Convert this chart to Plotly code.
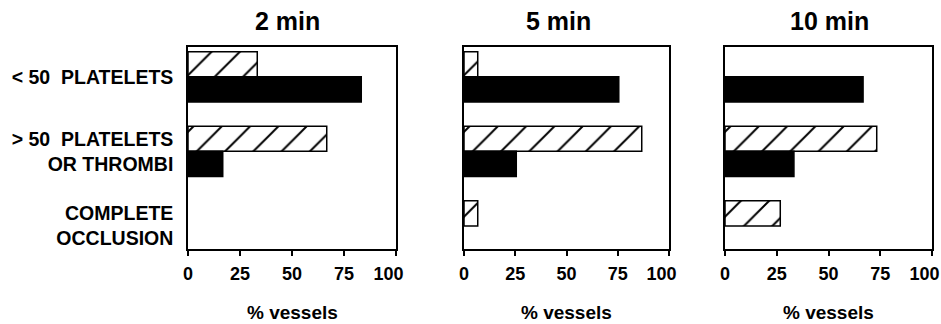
import plotly.graph_objects as go
from plotly.subplots import make_subplots

categories = ["<\u00a050\u00a0\u00a0PLATELETS", ">\u00a050\u00a0\u00a0PLATELETS<br>OR THROMBI", "COMPLETE<br>OCCLUSION"]
panel_titles = ["2 min", "5 min", "10 min"]
x_ticks = [0, 25, 50, 75, 100]
x_tick_labels = ["0", "25", "50", "75", "100\u00a0\u00a0\u00a0"]

hatched_2min = [33.3, 66.7, 0]
black_2min = [83.3, 16.7, 0]
hatched_5min = [6.7, 86.7, 6.7]
black_5min = [75.5, 25.5, 0]
hatched_10min = [0, 73.3, 26.7]
black_10min = [66.7, 33.3, 0]

hatched = [hatched_2min, hatched_5min, hatched_10min]
black = [black_2min, black_5min, black_10min]

FONT = "Liberation Sans, Arial, Helvetica, sans-serif"
W, H = 941, 324

# panel frames in pixels (left, right)
panel_px = [(188, 396), (464, 669), (725, 932)]
title_cx = [287, 558, 829]
top_px, bottom_px = 47, 249

fig = make_subplots(rows=1, cols=3)


def nz(vals):
    return [v if v else None for v in vals]


for i in range(3):
    fig.add_trace(go.Bar(
        y=categories, x=nz(hatched[i]), orientation="h",
        marker=dict(color="white", line=dict(color="black", width=1.5),
                    pattern=dict(shape="/", fgcolor="black", bgcolor="white", fgopacity=1,
                                 size=20, solidity=0.1, fillmode="replace")),
        showlegend=False, hoverinfo="x"), row=1, col=i + 1)
    fig.add_trace(go.Bar(
        y=categories, x=nz(black[i]), orientation="h",
        marker=dict(color="black", line=dict(color="black", width=1.5)),
        showlegend=False, hoverinfo="x"), row=1, col=i + 1)

ydom = [(H - bottom_px) / H, (H - top_px) / H]
for i in range(3):
    l, r = panel_px[i]
    xa = "xaxis" if i == 0 else f"xaxis{i+1}"
    ya = "yaxis" if i == 0 else f"yaxis{i+1}"
    fig.layout[xa].update(
        domain=[l / W, r / W], range=[0, 100], tickvals=x_ticks, ticktext=x_tick_labels,
        ticks="outside", ticklen=5, tickwidth=1.5, tickcolor="black",
        showline=True, linecolor="black", linewidth=1.5, mirror=True,
        showgrid=False, zeroline=False, fixedrange=True, automargin=False,
        ticklabeloverflow="allow",
        tickfont=dict(family=FONT, size=18, color="black", weight="bold"),
        ticklabelstandoff=3,
    )
    fig.layout[ya].update(
        domain=ydom, type="category", range=[2.31, -0.40],
        showline=True, linecolor="black", linewidth=1.5, mirror=True,
        showgrid=False, zeroline=False, ticks="", fixedrange=True, automargin=False,
        showticklabels=(i == 0),
        tickfont=dict(family=FONT, size=19.5, color="black", weight="bold"),
        ticklabelstandoff=9,
    )
    cx = (l + r) / 2 / W
    fig.add_annotation(text=panel_titles[i], x=title_cx[i] / W, y=1 - 21 / H, xref="paper", yref="paper",
                       showarrow=False, xanchor="center", yanchor="middle",
                       font=dict(family=FONT, size=25, color="black", weight="bold"))
    fig.add_annotation(text="% vessels", x=cx, y=1 - 312 / H, xref="paper", yref="paper",
                       showarrow=False, xanchor="center", yanchor="middle",
                       font=dict(family=FONT, size=19, color="black", weight="bold"))

fig.update_layout(
    width=W, height=H, margin=dict(l=0, r=0, t=0, b=0, autoexpand=False),
    paper_bgcolor="white", plot_bgcolor="white",
    barmode="group", bargap=0.327, bargroupgap=0.0,
    font=dict(family=FONT, color="black"),
)

fig.write_html("out.html", config={"displayModeBar": False},
               post_script="document.body.style.margin='0';document.body.style.overflow='hidden';")
